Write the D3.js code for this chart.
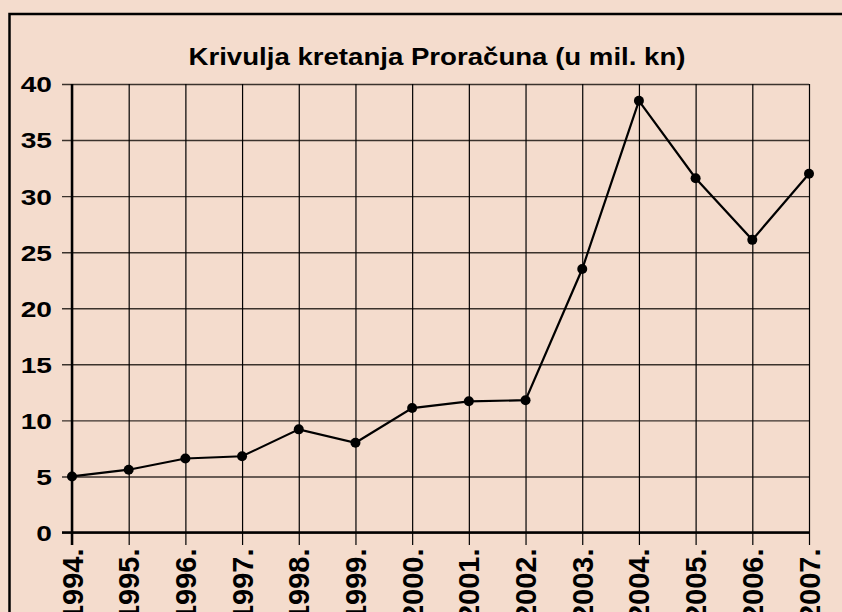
<!DOCTYPE html>
<html>
<head>
<meta charset="utf-8">
<script src="https://cdn.jsdelivr.net/npm/d3@7"></script>
<style>
  html, body { margin: 0; padding: 0; background: #f4dccd; }
  svg { display: block; }
  text { font-family: "Liberation Sans", Arial, sans-serif; font-weight: bold; fill: #000; }
</style>
</head>
<body>
<div id="chart"></div>
<script>
// godine i iznosi proracuna (mil. kn)
var years = ["1994.", "1995.", "1996.", "1997.", "1998.", "1999.", "2000.",
	"2001.", "2002.", "2003.", "2004.", "2005.", "2006.", "2007."];
var budget = [5.0, 5.6, 6.6, 6.8, 9.2, 8.0, 11.1, 11.7, 11.8, 23.5, 38.5, 31.6, 26.1, 32.0];
var yTicks = [0, 5, 10, 15, 20, 25, 30, 35, 40];
var title = "Krivulja kretanja Proračuna (u mil. kn)";

var width = 842, height = 612;
var plotLeft = 72, plotRight = 809, plotTop = 84, plotBottom = 532.5;

var svg = d3.select("#chart").append("svg")
	.attr("width", width)
	.attr("height", height);

svg.append("rect")
	.attr("width", width)
	.attr("height", height)
	.style("fill", "#f4dccd");

// okvir (samo gore i lijevo je vidljivo)
svg.append("path")
	.attr("d", "M9.5,612 L9.5,14 L842,14")
	.style("fill", "none")
	.style("stroke", "#000")
	.style("stroke-width", 2.5);

var x = d3.scalePoint().domain(years).range([plotLeft, plotRight]);
var y = d3.scaleLinear().domain([0, 40]).range([plotBottom, plotTop]);

// horizontalna mreza + oznake
var yAxis = svg.append("g")
	.attr("transform", "translate(" + plotLeft + ",0)")
	.call(d3.axisLeft(y).tickValues(yTicks).tickSize(10).tickFormat(""));
yAxis.select(".domain").remove();
yAxis.selectAll(".tick line")
	.attr("x2", -10)
	.attr("x1", plotRight - plotLeft)
	.style("stroke", "#3a322c")
	.style("stroke-width", 1.4);

yAxis.selectAll(".tick").append("text")
	.attr("transform", "translate(-20,0) scale(1.28,1)")
	.attr("text-anchor", "end")
	.attr("dy", "0.36em")
	.style("font-size", "22px")
	.text(function(d) { return d; });

// vertikalna mreza + godine
var xAxis = svg.append("g")
	.attr("transform", "translate(0," + plotBottom + ")")
	.call(d3.axisBottom(x).tickSize(12).tickFormat(""));
xAxis.select(".domain").remove();
xAxis.selectAll(".tick line")
	.attr("y1", plotTop - plotBottom)
	.attr("y2", 12.5)
	.style("stroke", "#000")
	.style("stroke-width", 1.2);

xAxis.selectAll(".tick").append("text")
	.attr("transform", "translate(10,16) rotate(-90)")
	.attr("text-anchor", "end")
	.style("font-size", "29px")
	.text(function(d) { return d; });

// osi
svg.append("line")
	.attr("x1", plotLeft).attr("x2", plotLeft)
	.attr("y1", plotTop).attr("y2", plotBottom + 12.5)
	.style("stroke", "#000")
	.style("stroke-width", 2.5);
svg.append("line")
	.attr("x1", plotLeft - 10).attr("x2", plotRight)
	.attr("y1", plotBottom).attr("y2", plotBottom)
	.style("stroke", "#000")
	.style("stroke-width", 2.5);

// naslov
svg.append("text")
	.attr("x", 437)
	.attr("y", 65)
	.attr("text-anchor", "middle")
	.attr("textLength", 497)
	.attr("lengthAdjust", "spacingAndGlyphs")
	.style("font-size", "23.5px")
	.text(title);

// krivulja
var line = d3.line()
	.x(function(d, i) { return x(years[i]); })
	.y(function(d) { return y(d); });

svg.append("path")
	.datum(budget)
	.attr("d", line)
	.style("fill", "none")
	.style("stroke", "#000")
	.style("stroke-width", 2.2);

svg.selectAll(".dot")
	.data(budget)
	.enter().append("circle")
	.attr("class", "dot")
	.attr("cx", function(d, i) { return x(years[i]); })
	.attr("cy", function(d) { return y(d); })
	.attr("r", 5)
	.style("fill", "#000");
</script>
</body>
</html>
